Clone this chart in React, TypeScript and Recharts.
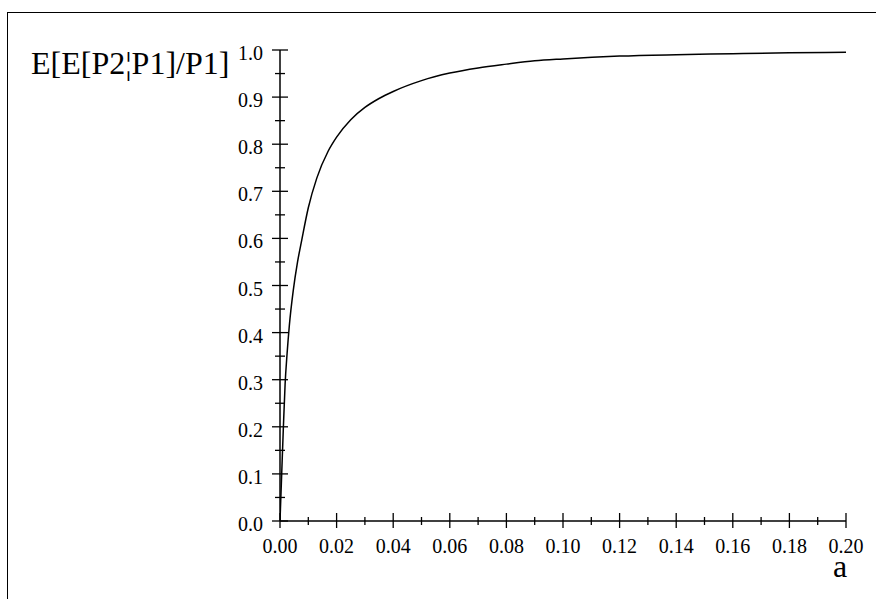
import React from "react";
import { LineChart, Line, XAxis, YAxis } from "recharts";

const aValues = [0, 0.0006, 0.0012, 0.0018, 0.0025, 0.0033, 0.0047, 0.0062, 0.0077, 0.01, 0.013, 0.017, 0.02, 0.025, 0.03, 0.035, 0.04, 0.05, 0.06, 0.07, 0.08, 0.09, 0.1, 0.12, 0.14, 0.16, 0.18, 0.2];
const eValues = [0, 0.1, 0.2, 0.29, 0.355, 0.415, 0.49, 0.55, 0.597, 0.665, 0.728, 0.785, 0.815, 0.852, 0.878, 0.897, 0.912, 0.935, 0.951, 0.962, 0.970, 0.977, 0.981, 0.987, 0.990, 0.992, 0.994, 0.995];
const xTicks = [0, 0.01, 0.02, 0.03, 0.04, 0.05, 0.06, 0.07, 0.08, 0.09, 0.1, 0.11, 0.12, 0.13, 0.14, 0.15, 0.16, 0.17, 0.18, 0.19, 0.2];
const yTicks = [0, 0.05, 0.1, 0.15, 0.2, 0.25, 0.3, 0.35, 0.4, 0.45, 0.5, 0.55, 0.6, 0.65, 0.7, 0.75, 0.8, 0.85, 0.9, 0.95, 1.0];
const yTitle = "E[E[P2\u00A6P1]/P1]";
const xTitle = "a";

const data = aValues.map((a, i) => ({ a, e: eValues[i] }));
const FONT = "'Liberation Serif', 'Times New Roman', serif";

const XTick = (props: any) => {
  const { x, y, payload } = props;
  const v = payload.value;
  const major = Math.round(v * 100) % 2 === 0;
  return (
    <g>
      <line x1={x} x2={x} y1={major ? y - 8 : y - 4} y2={major ? y + 7 : y + 4} stroke="#000" strokeWidth={1.3} />
      {major && (
        <text x={x} y={y + 32} textAnchor="middle" fontFamily={FONT} fontSize={20} fill="#000">
          {v.toFixed(2)}
        </text>
      )}
    </g>
  );
};

const YTick = (props: any) => {
  const { x, y, payload } = props;
  const v = payload.value;
  const major = Math.round(v * 100) % 10 === 0;
  return (
    <g>
      <line x1={major ? x - 8 : x - 5} x2={major ? x + 8 : x + 5} y1={y} y2={y} stroke="#000" strokeWidth={1.3} />
      {major && (
        <text x={x - 17} y={y + 10} textAnchor="end" fontFamily={FONT} fontSize={20} fill="#000">
          {v.toFixed(1)}
        </text>
      )}
    </g>
  );
};

export default function App() {
  return (
    <div style={{ position: "absolute", left: 0, top: 0, width: 876, height: 599, background: "#fff" }}>
      <LineChart width={876} height={599} data={data} margin={{ top: 50, right: 30, bottom: 0, left: 0 }}>
        <XAxis
          dataKey="a"
          type="number"
          domain={[0, 0.2]}
          ticks={xTicks}
          interval={0}
          tickSize={0}
          tickMargin={0}
          tickLine={false}
          height={78}
          axisLine={{ stroke: "#000", strokeWidth: 1.5 }}
          tick={<XTick />}
          allowDataOverflow
        />
        <YAxis
          type="number"
          domain={[0, 1]}
          ticks={yTicks}
          interval={0}
          tickSize={0}
          tickMargin={0}
          tickLine={false}
          width={280}
          axisLine={{ stroke: "#000", strokeWidth: 1.5 }}
          tick={<YTick />}
          allowDataOverflow
        />
        <Line type="monotone" dataKey="e" stroke="#000" strokeWidth={1.5} dot={false} isAnimationActive={false} />
      </LineChart>
      <svg width={876} height={599} style={{ position: "absolute", left: 0, top: 0, pointerEvents: "none" }}>
        <line x1={7.5} x2={7.5} y1={12} y2={599} stroke="#000" strokeWidth={1} />
        <line x1={7} x2={876} y1={12.5} y2={12.5} stroke="#000" strokeWidth={1} />
        <text x={31} y={74} fontFamily={FONT} fontSize={32} fill="#000">{yTitle}</text>
        <text x={840} y={577} textAnchor="middle" fontFamily={FONT} fontSize={32} fill="#000">{xTitle}</text>
      </svg>
    </div>
  );
}
